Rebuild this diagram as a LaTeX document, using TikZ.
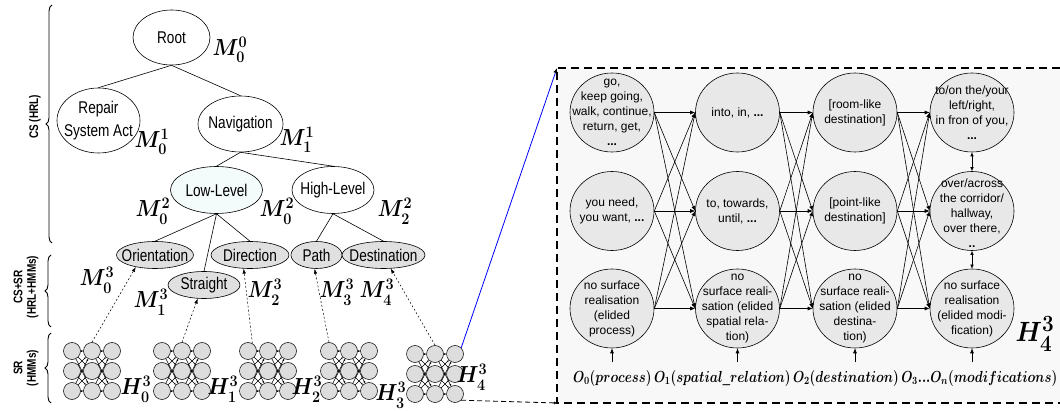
\documentclass[tikz,border=0pt]{standalone}
\usepackage{amsmath}
\usepackage{graphicx}
\usepackage{fontspec}
\setmainfont{Liberation Sans}
\newfontfamily\narrowfont[FakeStretch=0.8]{Liberation Sans}
\usetikzlibrary{shapes.geometric,arrows.meta,decorations.pathreplacing}
\definecolor{leafgray}{HTML}{E0E0E0}
\definecolor{cellgray}{HTML}{E8E8E8}
\definecolor{panelbg}{HTML}{F8F8F8}
\definecolor{hmmgray}{HTML}{DDDDDD}
\definecolor{palecyan}{HTML}{F3FBFB}
\newcommand\tallm[1]{\scalebox{1}[1.12]{$\boldsymbol{#1}$}}
\tikzset{
  treebox/.style={ellipse,draw,line width=0.6pt,fill=white,inner sep=0pt},
  leafbox/.style={ellipse,draw,line width=0.6pt,fill=leafgray,inner sep=0pt},
  treetext/.style={inner sep=0pt,align=center,font=\narrowfont\fontsize{17}{23}\selectfont},
  mlab/.style={inner sep=0pt,font=\fontsize{20.74}{21}\selectfont},
  hc/.style={circle,draw,line width=0.5pt,fill=hmmgray,minimum size=17pt,inner sep=0pt},
  hedge/.style={line width=0.5pt,-{Latex[length=2pt,width=2pt]}},
  pc/.style={ellipse,draw,line width=0.6pt,fill=cellgray,minimum width=84pt,minimum height=79pt,inner sep=0pt},
  ptext/.style={inner sep=0pt,align=center,font=\fontsize{12}{15}\selectfont},
  parr/.style={line width=0.6pt,-{Latex[length=5pt,width=4pt]}},
  darr/.style={line width=0.5pt,dashed,dash pattern=on 2pt off 2pt,-{Latex[length=5pt,width=3.5pt]}},
  olab/.style={inner sep=0pt,font=\fontsize{14.4}{15}\selectfont},
  bracelab/.style={inner sep=0pt,align=center,rotate=90,font=\narrowfont\bfseries\fontsize{12.5}{13.5}\selectfont},
  bracestyle/.style={decorate,decoration={brace,amplitude=6pt},line width=0.9pt},
}
\newcommand\enode[6]{%
  \node[#2,minimum width=#4pt,minimum height=#5pt] (#1) at (#3) {};
  \node[treetext] (#1-t) at (#1) {#6};}
\newcommand\hmmicon[3]{%
  \foreach \c in {0,1,2}{\foreach \r in {0,1,2}{%
    \node[hc] (#1-\c-\r) at ({#2+20*\c},{#3+20*\r}) {};}}
  \foreach \c/\d in {0/1,1/2}{\foreach \r in {0,1,2}{\foreach \s in {0,1,2}{%
    \draw[hedge] (#1-\c-\r) -- (#1-\d-\s);}}}}
\begin{document}
\begin{tikzpicture}[x=1pt,y=-1pt]
\useasboundingbox (0,0) rectangle (1060,411);

% ---------- right panel background ----------
\fill[panelbg] (557,68) rectangle (1060,403);
\coordinate (boxtl) at (557,68);
\coordinate (boxbl) at (557,403);
\coordinate (boxtr) at (1060,68);
\coordinate (boxbr) at (1060,403);
\draw[line width=1.1pt,dash pattern=on 8pt off 5pt] (boxtr) -- (boxtl) -- (boxbl) -- (boxbr);

% ---------- tree ----------
\enode{root}{treebox}{171.5,37.5}{77}{55}{Root}
\enode{repair}{treebox}{98.5,120.5}{83}{65}{Repair\\System Act}
\enode{nav}{treebox}{240.5,124}{85}{56}{Navigation}
\enode{low}{treebox,fill=palecyan}{216.5,190}{92}{47}{Low-Level}
\enode{high}{treebox}{333,190}{82}{47}{High-Level}
\enode{ori}{leafbox}{155,255}{77}{27}{Orientation}
\enode{str}{leafbox}{204,285}{72}{27}{Straight}
\enode{dir}{leafbox}{250,255}{78}{27}{Direction}
\enode{path}{leafbox}{316.5,255}{51}{27}{Path}
\enode{dest}{leafbox}{383.5,255}{83}{27}{Destination}

\draw[line width=0.6pt] (root.south) -- (repair.north);
\draw[line width=0.6pt] (root.south) -- (nav.north);
\draw[line width=0.6pt] (nav.south) -- (low.north);
\draw[line width=0.6pt] (nav.south) -- (high.north);
\draw[line width=0.6pt] (low.south) -- (ori.north);
\draw[line width=0.6pt] (low.south) -- (str.north);
\draw[line width=0.6pt] (low.south) -- (dir.north);
\draw[line width=0.6pt] (high.south) -- (path.north);
\draw[line width=0.6pt] (high.south) -- (dest.north);

% ---------- M labels ----------
\node[mlab] (m00) at (230,50) {\tallm{M^0_0}};
\node[mlab] (m01) at (152,142) {\tallm{M^1_0}};
\node[mlab] (m11) at (297,140) {\tallm{M^1_1}};
\node[mlab] (m02a) at (153,211) {\tallm{M^2_0}};
\node[mlab] (m02b) at (277,211) {\tallm{M^2_0}};
\node[mlab] (m22) at (395,211) {\tallm{M^2_2}};
\node[mlab] (m03) at (97,280) {\tallm{M^3_0}};
\node[mlab] (m13) at (151,302) {\tallm{M^3_1}};
\node[mlab] (m23) at (265,292) {\tallm{M^3_2}};
\node[mlab] (m33) at (337,292) {\tallm{M^3_3}};
\node[mlab] (m43) at (377,292) {\tallm{M^3_4}};

% ---------- HMM icons ----------
\hmmicon{h0}{72}{351}
\hmmicon{h1}{162}{351}
\hmmicon{h2}{248}{351}
\hmmicon{h3}{329}{351}
\hmmicon{h4}{415}{354}

\node[mlab] (h0l) at (136,389) {\tallm{H^3_0}};
\node[mlab] (h1l) at (223,389) {\tallm{H^3_1}};
\node[mlab] (h2l) at (307,389) {\tallm{H^3_2}};
\node[mlab] (h3l) at (391,395) {\tallm{H^3_3}};
\node[mlab] (h4l) at (472,377) {\tallm{H^3_4}};

\draw[darr] (h0-1-0.north) -- (ori.212);
\draw[darr] (h1-1-0.north) -- (str.245);
\draw[darr] (h2-0-0.60) -- (dir.245);
\draw[darr] (h3-0-0.north) -- (path.262);
\draw[darr] (h4-1-0.north) -- (dest.298);

% ---------- connectors to panel ----------
\draw[blue,line width=0.8pt,-{Latex[black,length=5pt,width=4pt]}] (h4-2-0.north east) -- (boxtl);
\draw[line width=0.8pt,dash pattern=on 5pt off 3pt,-{Latex[length=3pt,width=3pt]}] (h4-2-2.south east) -- (boxbl);

% ---------- braces ----------
\draw[bracestyle] (52,243) -- (52,5);
\draw[bracestyle] (51,327) -- (51,255);
\draw[bracestyle] (51,403) -- (51,333);
\node[bracelab] (bl1) at (35,117) {CS (HRL)};
\node[bracelab] (bl2) at (26,287) {CS+SR\\(HRL+HMMs)};
\node[bracelab] (bl3) at (26,368) {SR\\(HMMs)};

% ---------- panel circles ----------
\node[pc] (p11) at (612,112.5) {};
\node[pc] (p12) at (612,211) {};
\node[pc] (p13) at (612,308.5) {};
\node[pc] (p21) at (737.5,112.5) {};
\node[pc] (p22) at (737.5,211) {};
\node[pc] (p23) at (737.5,308.5) {};
\node[pc] (p31) at (855,112.5) {};
\node[pc] (p32) at (855,211) {};
\node[pc] (p33) at (855,308.5) {};
\node[pc] (p41) at (972,112.5) {};
\node[pc] (p42) at (972,211) {};
\node[pc] (p43) at (972,308.5) {};

\foreach \i/\j in {1/2,2/3,3/4}{\foreach \a in {1,2,3}{\foreach \b in {1,2,3}{%
  \draw[parr] (p\i\a.east) -- (p\j\b.west);}}}
\draw[line width=0.6pt,{Latex[length=4pt,width=3.5pt]}-{Latex[length=4pt,width=3.5pt]}] (p41.south) -- (p42.north);
\draw[line width=0.6pt,{Latex[length=4pt,width=3.5pt]}-{Latex[length=4pt,width=3.5pt]}] (p42.south) -- (p43.north);

\node[ptext] (t11) at (p11) {go,\\keep going,\\walk, continue,\\return, get,\\\textbf{...}};
\node[ptext] (t12) at (p12) {you need,\\you want, \textbf{...}};
\node[ptext] (t13) at (p13) {no surface\\realisation\\(elided\\process)};
\node[ptext] (t21) at (p21) {into, in, \textbf{...}};
\node[ptext] (t22) at (p22) {to, towards,\\until, \textbf{...}};
\node[ptext] (t23) at (p23) {no\\surface reali-\\sation (elided\\spatial rela-\\tion)};
\node[ptext] (t31) at (p31) {[room-like\\destination]};
\node[ptext] (t32) at (p32) {[point-like\\destination]};
\node[ptext] (t33) at (p33) {no\\surface reali-\\sation (elided\\destina-\\tion)};
\node[ptext] (t41) at (p41) {to/on the/your\\left/right,\\in fron of you,\\\textbf{...}};
\node[ptext] (t42) at (972,213) {over/across\\the corridor/\\hallway,\\over there,\\\textbf{..}};
\node[ptext] (t43) at (p43) {no surface\\realisation\\(elided modi-\\fication)};

% ---------- observation labels ----------
\coordinate (o1) at (612,362);
\coordinate (o2) at (737.5,362);
\coordinate (o3) at (855,362);
\coordinate (o4) at (972,362);
\draw[parr] (o1) -- (p13.south);
\draw[parr] (o2) -- (p23.south);
\draw[parr] (o3) -- (p33.south);
\draw[parr] (o4) -- (p43.south);
\node[olab,anchor=west] (olabels) at (573,378) {\resizebox*{484pt}{16pt}{$\boldsymbol{O_0(process)\,O_1(spatial}\_\boldsymbol{relation)\,O_2(destination)\,O_3...O_n(modifications)}$}};

\node[inner sep=0pt,font=\fontsize{24.88}{25}\selectfont] (h4big) at (1035,334) {\tallm{H^3_4}};
\end{tikzpicture}
\end{document}
